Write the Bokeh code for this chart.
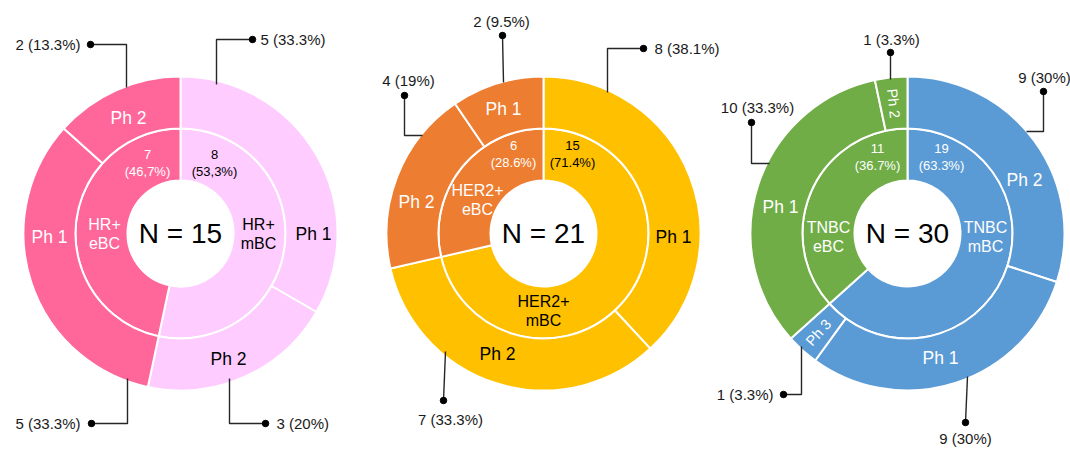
import numpy as np
from bokeh.plotting import figure
from bokeh.models import Range1d
from bokeh.core.properties import value
from bokeh.embed import file_html
from bokeh.resources import INLINE

# ---------------- data ----------------
hr_group_titles = ["HR+\nmBC", "HR+\neBC"]
hr_group_n = [8, 7]
hr_group_pct = ["53,3%", "46,7%"]
hr_phase_names = ["Ph 1", "Ph 2", "Ph 1", "Ph 2"]
hr_phase_group = [0, 0, 1, 1]
hr_phase_n = [5, 3, 5, 2]
hr_phase_pct = ["33.3%", "20%", "33.3%", "13.3%"]

her2_group_titles = ["HER2+\nmBC", "HER2+\neBC"]
her2_group_n = [15, 6]
her2_group_pct = ["71.4%", "28.6%"]
her2_phase_names = ["Ph 1", "Ph 2", "Ph 2", "Ph 1"]
her2_phase_group = [0, 0, 1, 1]
her2_phase_n = [8, 7, 4, 2]
her2_phase_pct = ["38.1%", "33.3%", "19%", "9.5%"]

tnbc_group_titles = ["TNBC\nmBC", "TNBC\neBC"]
tnbc_group_n = [19, 11]
tnbc_group_pct = ["63.3%", "36.7%"]
tnbc_phase_names = ["Ph 2", "Ph 1", "Ph 3", "Ph 1", "Ph 2"]
tnbc_phase_group = [0, 0, 0, 1, 1]
tnbc_phase_n = [9, 9, 1, 10, 1]
tnbc_phase_pct = ["30%", "30%", "3.3%", "33.3%", "3.3%"]

# ---------------- layout / style ----------------
W, H = 1070, 449
FONT = "Liberation Sans"
R_HOLE, R_MID, R_OUT = 53, 105, 157


def Y(sy):
    return H - sy


p = figure(width=W, height=H, x_range=Range1d(0, W), y_range=Range1d(0, H),
           output_backend="svg", toolbar_location=None, min_border=0,
           x_axis_type=None, y_axis_type=None)
p.outline_line_color = None
p.background_fill_color = "white"
p.border_fill_color = "white"


def ml_text(xs, ys, texts, colors, size, spacing, angle=0.0):
    xx, yy, tt, cc = [], [], [], []
    for x, y, t, c in zip(xs, ys, texts, colors):
        lines = t.split("\n")
        n = len(lines)
        for i, ln in enumerate(lines):
            off = (i - (n - 1) / 2) * spacing
            xx.append(x)
            yy.append(Y(y + off))
            tt.append(ln)
            cc.append(c)
    p.text(x=xx, y=yy, text=tt, text_color=cc, text_font=value(FONT),
           text_font_size=size, text_align="center", text_baseline="middle", angle=angle)


def chart(center, group_titles, group_n, group_pct, phase_names, phase_group, phase_n, phase_pct,
          colors, text_colors, lay):
    cx, cy = center
    total = sum(group_n)
    # inner ring
    cum = np.concatenate([[0], np.cumsum(group_n)]) / total * 360.0
    starts = np.radians(90 - cum[1:])
    ends = np.radians(90 - cum[:-1])
    p.annular_wedge(x=[cx] * len(group_n), y=[Y(cy)] * len(group_n),
                    inner_radius=R_HOLE, outer_radius=R_MID,
                    start_angle=list(starts), end_angle=list(ends),
                    fill_color=colors[:len(group_n)], line_color="white", line_width=2)
    # outer ring
    cum2 = np.concatenate([[0], np.cumsum(phase_n)]) / total * 360.0
    s2 = np.radians(90 - cum2[1:])
    e2 = np.radians(90 - cum2[:-1])
    p.annular_wedge(x=[cx] * len(phase_n), y=[Y(cy)] * len(phase_n),
                    inner_radius=R_MID, outer_radius=R_OUT,
                    start_angle=list(s2), end_angle=list(e2),
                    fill_color=[colors[g] for g in phase_group], line_color="white", line_width=2)
    # center N
    p.text(x=[cx], y=[Y(cy)], text=[f"N = {total}"], text_font=value(FONT),
           text_font_size="28px", text_color="black", text_align="center", text_baseline="middle")
    # group titles and counts
    gx = [q[0] for q in lay["title_xy"]]
    gy = [q[1] for q in lay["title_xy"]]
    ml_text(gx, gy, group_titles, text_colors, "16px", 19)
    kx = [q[0] for q in lay["count_xy"]]
    ky = [q[1] for q in lay["count_xy"]]
    ml_text(kx, ky, [f"{n}\n({pc})" for n, pc in zip(group_n, group_pct)], text_colors, "13px", 17)
    # phase labels
    for i, name in enumerate(phase_names):
        x, y = lay["phase_xy"][i]
        ang = lay["phase_angle"][i]
        size = "14.5px" if ang != 0 else "17.5px"
        p.text(x=[x], y=[Y(y)], text=[name], text_font=value(FONT), text_font_size=size,
               text_color=text_colors[phase_group[i]], text_align="center", text_baseline="middle",
               angle=np.radians(ang))
    # callouts
    for i, (pts, dot, lab, align) in enumerate(lay["callouts"]):
        xs = [q[0] for q in pts] + [dot[0]]
        ys = [Y(q[1]) for q in pts] + [Y(dot[1])]
        p.line(xs, ys, line_color="#262626", line_width=1.4)
        p.scatter([dot[0]], [Y(dot[1])], size=6.5, fill_color="black", line_color="black")
        p.text(x=[lab[0]], y=[Y(lab[1])], text=[f"{phase_n[i]} ({phase_pct[i]})"],
               text_font=value(FONT), text_font_size="15px", text_color="#1a1a1a",
               text_align=align, text_baseline="middle")


chart((180, 233), hr_group_titles, hr_group_n, hr_group_pct, hr_phase_names, hr_phase_group,
      hr_phase_n, hr_phase_pct, ["#FFCCFF", "#FF6699"], ["black", "white"],
      dict(title_xy=[(258, 233), (104, 233)], count_xy=[(214, 162), (147, 162)],
           phase_xy=[(313, 233), (228, 358), (49, 236), (128, 117)], phase_angle=[0, 0, 0, 0],
           callouts=[([(216, 84), (216, 39)], (252, 39), (260, 39), "left"),
                     ([(229, 378), (229, 423)], (265, 423), (276, 423), "left"),
                     ([(127, 378), (127, 423)], (91, 423), (80, 423), "right"),
                     ([(126, 87), (126, 44)], (90, 44), (80, 44), "right")]))

chart((543, 233), her2_group_titles, her2_group_n, her2_group_pct, her2_phase_names, her2_phase_group,
      her2_phase_n, her2_phase_pct, ["#FFC000", "#ED7D31"], ["black", "white"],
      dict(title_xy=[(543, 310), (477, 199)], count_xy=[(572, 153), (513, 153)],
           phase_xy=[(673, 236), (497, 353), (416, 201), (503, 108)], phase_angle=[0, 0, 0, 0],
           callouts=[([(607, 92), (607, 48)], (643, 48), (654, 48), "left"),
                     ([(445, 351)], (443, 400), (450, 419), "center"),
                     ([(422, 135), (404, 135)], (404, 95), (408, 80), "center"),
                     ([(503, 82)], (502, 35), (501, 21), "center")]))

chart((907, 233), tnbc_group_titles, tnbc_group_n, tnbc_group_pct, tnbc_phase_names, tnbc_phase_group,
      tnbc_phase_n, tnbc_phase_pct, ["#5B9BD5", "#70AD47"], ["white", "white"],
      dict(title_xy=[(985, 236), (828, 236)], count_xy=[(941, 156), (877, 156)],
           phase_xy=[(1024, 179), (940, 357), (818, 332), (780, 206), (893, 103)],
           phase_angle=[0, 0, 48, 0, -84],
           callouts=[([(1026, 131), (1043, 131)], (1043, 91), (1044, 77), "center"),
                     ([(967, 376)], (965, 422), (965, 438), "center"),
                     ([(801, 346), (801, 394)], (783, 394), (773, 394), "right"),
                     ([(769, 163), (751, 163)], (751, 122), (757, 107), "center"),
                     ([(890, 79)], (890, 52), (891, 39), "center")]))

open("out.html", "w").write(file_html(p, INLINE))
